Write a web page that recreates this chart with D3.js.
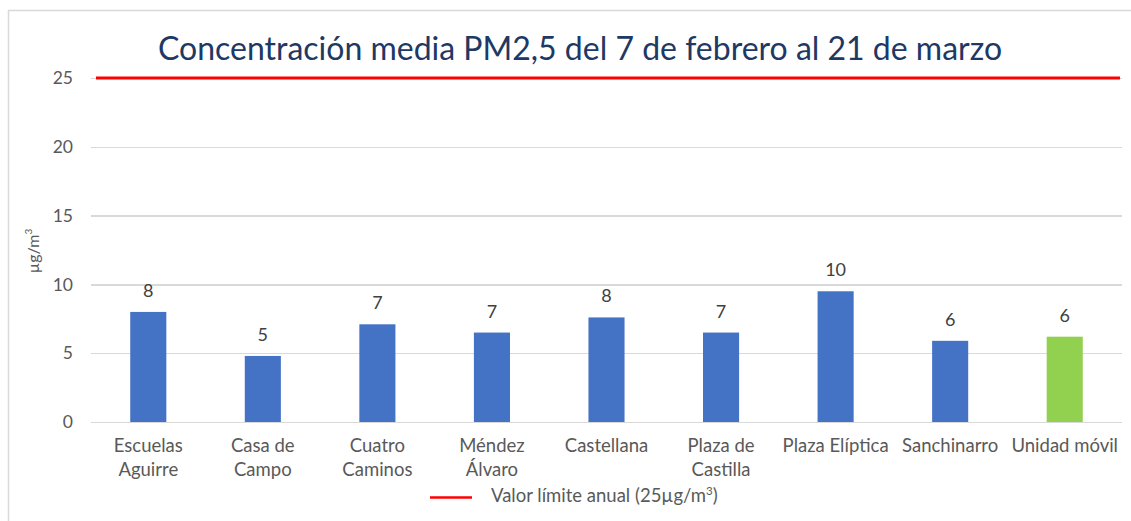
<!DOCTYPE html>
<html>
<head>
    <meta charset="utf-8">
    <style>
        body{
            margin: 0;
            background-color: white;
        }
        svg text{
            font-family: Lato, "Open Sans", sans-serif;
        }
        .grid line{
            stroke: #d9d9d9;
            stroke-width: 1.5px;
            shape-rendering: crispEdges;
        }
        .grid path{
            stroke-width: 0;
        }
    </style>
</head>
<body>
    <svg class="vis"></svg>

    <script src="https://cdnjs.cloudflare.com/ajax/libs/d3/7.8.5/d3.min.js"></script>
    <script>

        var stations = ["Escuelas Aguirre", "Casa de Campo", "Cuatro Caminos", "Méndez Álvaro",
                        "Castellana", "Plaza de Castilla", "Plaza Elíptica", "Sanchinarro", "Unidad móvil"];
        // x label lines, as wrapped in the picture
        var stationLines = [["Escuelas", "Aguirre"], ["Casa de", "Campo"], ["Cuatro", "Caminos"],
                            ["Méndez", "Álvaro"], ["Castellana"], ["Plaza de", "Castilla"],
                            ["Plaza Elíptica"], ["Sanchinarro"], ["Unidad móvil"]];
        var pm25 = [8.0, 4.8, 7.1, 6.5, 7.6, 6.5, 9.5, 5.9, 6.2];
        var yTicks = [0, 5, 10, 15, 20, 25];
        var limitValue = 25;

        var width = 1131;
        var height = 521;
        var margin = {left: 91, right: 9, top: 78, bottom: 99};

        var vis = d3.select("svg.vis")
                 .attr("width", width)
                 .attr("height", height);

        // outer chart frame
        vis.append("rect")
            .attr("x", 8.5).attr("y", 10.5)
            .attr("width", width).attr("height", height)
            .attr("fill", "none")
            .attr("stroke", "#d9d9d9")
            .attr("stroke-width", 1.5);

        var x = d3.scaleBand()
            .domain(stations)
            .range([margin.left, width - margin.right])
            .paddingInner(0.685)
            .paddingOuter(0.3425);

        var y = d3.scaleLinear()
            .domain([0, 25])
            .range([height - margin.bottom, margin.top]);

        // gridlines
        vis.append("g")
            .attr("class", "grid")
            .attr("transform", "translate(" + margin.left + ",0)")
            .call(d3.axisLeft(y).tickValues(yTicks).tickSize(-(width - margin.left - margin.right)).tickFormat(""));

        // y tick labels
        vis.append("g").selectAll("text")
            .data(yTicks)
            .join("text")
            .attr("x", 73)
            .attr("y", d => y(d))
            .attr("dy", "0.35em")
            .attr("text-anchor", "end")
            .attr("font-size", "17.5px")
            .attr("fill", "#595959")
            .text(d => d);

        // y axis title
        var yt = vis.append("text")
            .attr("transform", "translate(39," + 251 + ") rotate(-90)")
            .attr("text-anchor", "middle")
            .attr("font-size", "16px")
            .attr("fill", "#595959");
        yt.append("tspan").text("µg/m");
        yt.append("tspan").attr("font-size", "10px").attr("dy", "-7").text("3");

        // bars
        vis.append("g").selectAll("rect")
            .data(pm25)
            .join("rect")
            .attr("x", (d, i) => x(stations[i]))
            .attr("y", d => y(d))
            .attr("width", x.bandwidth())
            .attr("height", d => y(0) - y(d))
            .attr("fill", (d, i) => i === stations.length - 1 ? "#92d050" : "#4472c4");

        // value labels
        vis.append("g").selectAll("text")
            .data(pm25)
            .join("text")
            .attr("x", (d, i) => x(stations[i]) + x.bandwidth() / 2)
            .attr("y", d => y(d) - 15)
            .attr("text-anchor", "middle")
            .attr("font-size", "18px")
            .attr("fill", "#404040")
            .text(d => Math.round(d));

        // category labels
        var cat = vis.append("g").selectAll("text")
            .data(stationLines)
            .join("text")
            .attr("x", (d, i) => x(stations[i]) + x.bandwidth() / 2)
            .attr("y", 452)
            .attr("text-anchor", "middle")
            .attr("font-size", "18.5px")
            .attr("fill", "#595959");
        cat.selectAll("tspan")
            .data(d => d)
            .join("tspan")
            .attr("x", function(){ return this.parentNode.getAttribute("x"); })
            .attr("dy", (d, i) => i === 0 ? 0 : 24)
            .text(d => d);

        // limit line
        vis.append("line")
            .attr("x1", 96)
            .attr("x2", width - margin.right - 2)
            .attr("y1", y(limitValue))
            .attr("y2", y(limitValue))
            .attr("stroke", "#ff0000")
            .attr("stroke-width", 3);

        // title
        vis.append("text")
            .attr("x", 580)
            .attr("y", 60)
            .attr("text-anchor", "middle")
            .attr("font-size", "32px")
            .attr("fill", "#203864")
            .text("Concentración media PM2,5 del 7 de febrero al 21 de marzo");

        // legend
        vis.append("line")
            .attr("x1", 430).attr("x2", 472)
            .attr("y1", 497.5).attr("y2", 497.5)
            .attr("stroke", "#ff0000")
            .attr("stroke-width", 2.5);
        var lg = vis.append("text")
            .attr("x", 491)
            .attr("y", 502)
            .attr("font-size", "18.5px")
            .attr("fill", "#595959");
        lg.append("tspan").text("Valor límite anual (25µg/m");
        lg.append("tspan").attr("font-size", "11.5px").attr("dy", "-7").text("3");
        lg.append("tspan").attr("dy", "7").text(")");

    </script>
</body>
</html>
